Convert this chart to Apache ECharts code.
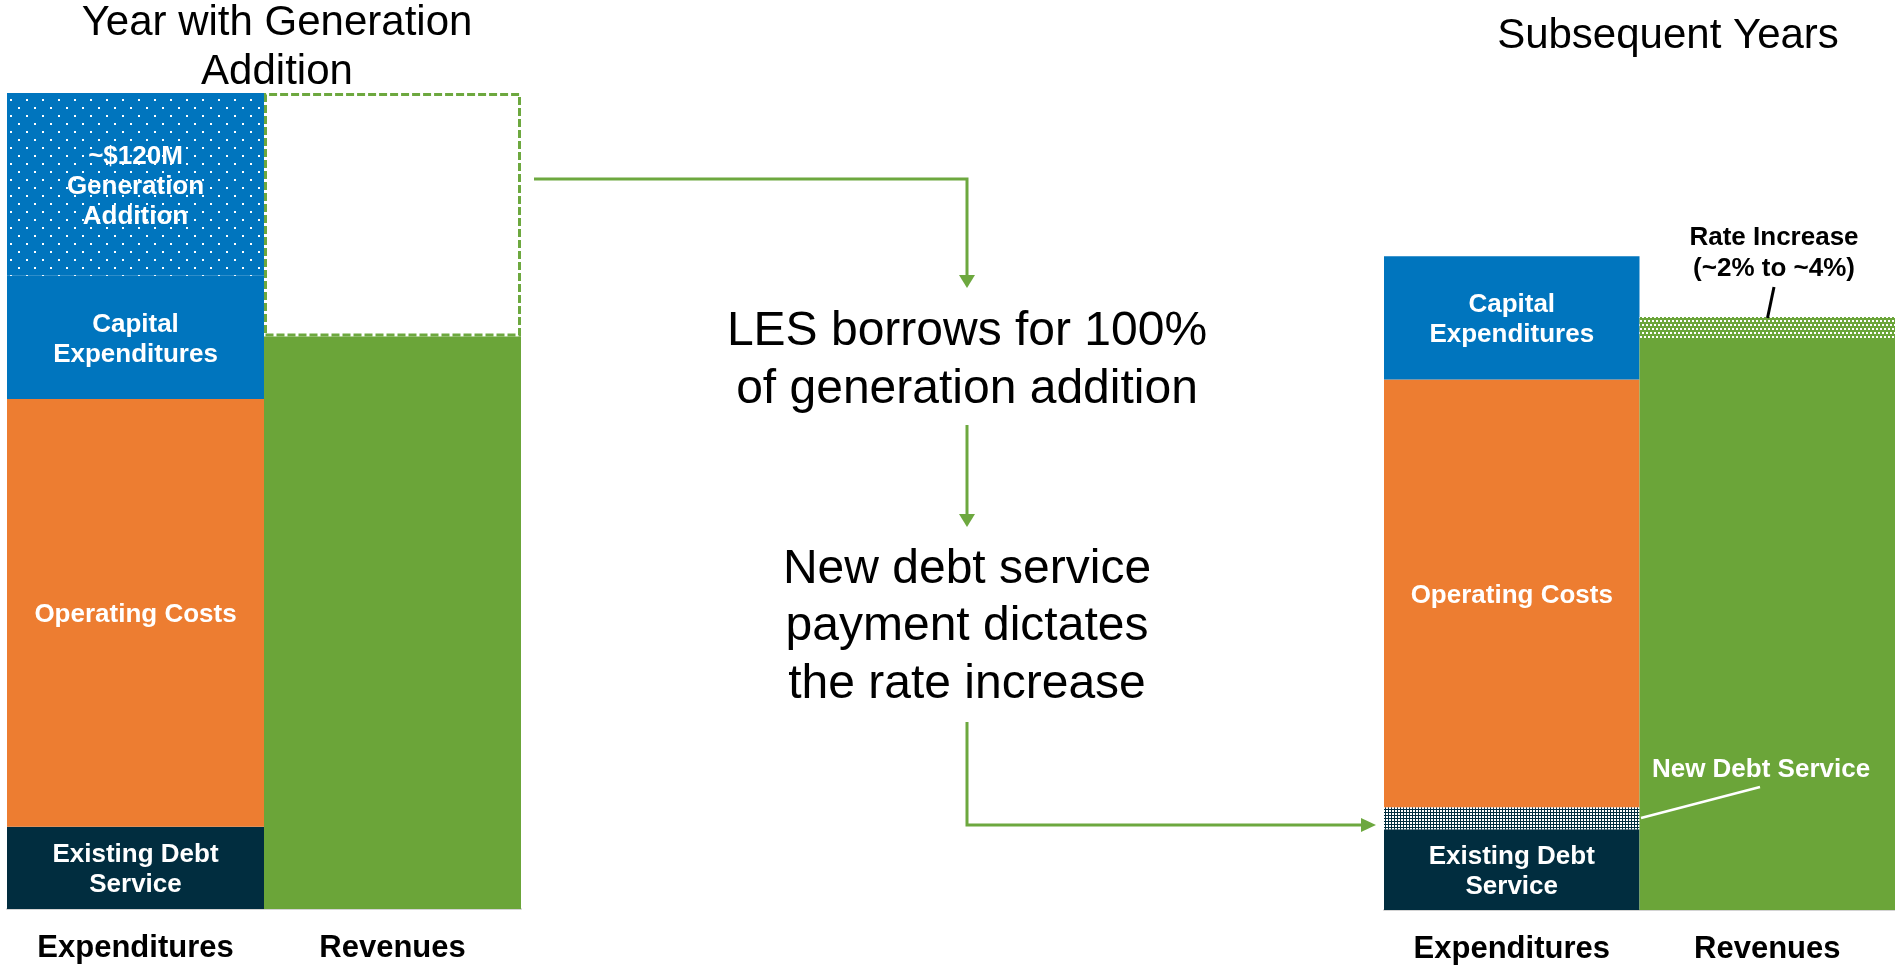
<!DOCTYPE html>
<html>
<head>
<meta charset="utf-8">
<title>Generation Addition Funding</title>
<script src="https://cdn.jsdelivr.net/npm/echarts@6/dist/echarts.min.js"></script>
<style>
  html, body { margin: 0; padding: 0; background: #ffffff; }
  #chart { width: 1895px; height: 966px; }
</style>
</head>
<body>
<div id="chart"></div>
<script>
// Column categories of each panel
const categories = ['Expenditures', 'Revenues'];
const panelTitles = ['Year with Generation\nAddition', 'Subsequent Years'];

// Values per panel: [year with generation addition, subsequent years] ($M, approximate)
const existingDebtService = [54, 53];
const newDebtService = [0, 14.5];
const operatingCosts = [281, 281];
const capitalExpenditures = [81, 81];
const generationAddition = [120, 0];
const revenues = [376, 375];
const revenueShortfall = [160, 0];   // part of the addition year covered by borrowing
const rateIncrease = [0, 14.5];

const flowSteps = [
  'LES borrows for 100%\nof generation addition',
  'New debt service\npayment dictates\nthe rate increase'
];

const FONT = 'Arial, "Liberation Sans", Helvetica, sans-serif';
const BLUE = '#0075BE';
const ORANGE = '#ED7D31';
const GREEN = '#6BA539';
const NAVY = '#012D3F';
const ARROW = '#6DA83F';

// Fill patterns
function patternCanvas(w, h, bg, dots, size) {
  const c = document.createElement('canvas');
  c.width = w; c.height = h;
  const g = c.getContext('2d');
  g.fillStyle = bg; g.fillRect(0, 0, w, h);
  g.fillStyle = '#ffffff';
  dots.forEach(d => g.fillRect(d[0], d[1], size, size));
  return { image: c, repeat: 'repeat' };
}
const dottedBlue = patternCanvas(16, 16, BLUE, [[10, 3], [2, 11]], 2);
const dottedNavy = patternCanvas(3, 3, NAVY, [[0, 0]], 2);
const dottedGreen = patternCanvas(4, 8, GREEN, [[0, 0], [2, 4]], 2);

const segLabel = (text) => ({
  show: true,
  position: 'inside',
  offset: [0, 2],
  formatter: text,
  color: '#ffffff',
  fontFamily: FONT,
  fontWeight: 'bold',
  fontSize: 26,
  lineHeight: 30,
  textBorderWidth: 0
});

function segment(name, panel, column, values, fill, label, extraStyle) {
  const v = values[panel];
  return {
    type: 'bar',
    name: name,
    xAxisIndex: panel,
    yAxisIndex: panel,
    stack: 'panel' + panel,
    barWidth: '100%',
    barCategoryGap: '0%',
    silent: true,
    data: column === 0 ? [v, '-'] : ['-', v],
    itemStyle: Object.assign({ color: fill }, extraStyle || {}),
    label: label || { show: false },
    emphasis: { disabled: true }
  };
}

const series = [
  // Year with generation addition
  segment('Existing Debt Service', 0, 0, existingDebtService, NAVY, segLabel('Existing Debt\nService')),
  segment('Operating Costs', 0, 0, operatingCosts, ORANGE, segLabel('Operating Costs')),
  segment('Capital Expenditures', 0, 0, capitalExpenditures, BLUE, segLabel('Capital\nExpenditures')),
  segment('Generation Addition', 0, 0, generationAddition, dottedBlue,
    segLabel(p => '~$' + p.value + 'M\nGeneration\nAddition')),
  segment('Revenues', 0, 1, revenues, GREEN),
  segment('Borrowed', 0, 1, revenueShortfall, '#ffffff', null,
    { borderColor: ARROW, borderWidth: 3, borderType: [8, 3] }),
  // Subsequent years
  segment('Existing Debt Service', 1, 0, existingDebtService, NAVY, segLabel('Existing Debt\nService')),
  segment('New Debt Service', 1, 0, newDebtService, dottedNavy),
  segment('Operating Costs', 1, 0, operatingCosts, ORANGE, segLabel('Operating Costs')),
  segment('Capital Expenditures', 1, 0, capitalExpenditures, BLUE, segLabel('Capital\nExpenditures')),
  segment('Revenues', 1, 1, revenues, GREEN),
  segment('Rate Increase', 1, 1, rateIncrease, dottedGreen)
];

const xAxisBase = (gridIndex) => ({
  type: 'category',
  gridIndex: gridIndex,
  data: categories,
  boundaryGap: true,
  axisTick: { show: false },
  axisLine: { show: true, lineStyle: { color: '#D4D4D4', width: 2 } },
  axisLabel: {
    color: '#000000',
    fontFamily: FONT,
    fontWeight: 'bold',
    fontSize: 31,
    lineHeight: 31,
    margin: 24,
    interval: 0
  },
  splitLine: { show: false },
  z: 0
});
const yAxisBase = (gridIndex) => ({
  type: 'value',
  gridIndex: gridIndex,
  min: 0,
  max: 536,
  show: false,
  splitLine: { show: false }
});

const textEl = (text, x, y, size, weight, color, lineHeight) => ({
  type: 'text',
  x: x,
  y: y,
  z: 100,
  silent: true,
  style: {
    text: text,
    fill: color,
    font: weight + ' ' + size + 'px ' + FONT,
    lineHeight: lineHeight,
    align: 'center',
    verticalAlign: 'middle',
    textAlign: 'center',
    textVerticalAlign: 'middle'
  }
});
const lineEl = (points, color, width) => ({
  type: 'polyline',
  z: 100,
  silent: true,
  shape: { points: points },
  style: { stroke: color, lineWidth: width, fill: null, lineJoin: 'miter' }
});
const headEl = (points) => ({
  type: 'polygon',
  z: 100,
  silent: true,
  shape: { points: points },
  style: { fill: ARROW }
});

const graphics = [
  textEl(panelTitles[0], 277, 48, 42, 'normal', '#000000', 48.5),
  textEl(panelTitles[1], 1668, 36, 42, 'normal', '#000000', 48),
  textEl(flowSteps[0], 967, 361, 48, 'normal', '#000000', 57.5),
  textEl(flowSteps[1], 967, 627, 48, 'normal', '#000000', 57.5),
  // flow arrows
  lineEl([[534, 179], [967, 179], [967, 277]], ARROW, 3),
  headEl([[959, 275], [975, 275], [967, 288]]),
  lineEl([[967, 425], [967, 516]], ARROW, 3),
  headEl([[959, 514], [975, 514], [967, 527]]),
  lineEl([[967, 722], [967, 825], [1364, 825]], ARROW, 3),
  headEl([[1361, 818], [1361, 832], [1376, 825]]),
  // callouts in the subsequent-years panel
  lineEl([[1641, 818], [1760, 787]], '#ffffff', 2.5),
  textEl('New Debt Service', 1761, 770, 26, 'bold', '#ffffff', 30),
  lineEl([[1774, 287], [1767.5, 318]], '#000000', 3),
  textEl('Rate Increase\n(~2% to ~4%)', 1774, 253, 26, 'bold', '#000000', 31)
];

const chart = echarts.init(document.getElementById('chart'), null, { renderer: 'canvas' });
chart.setOption({
  backgroundColor: '#ffffff',
  animation: false,
  tooltip: { show: false },
  grid: [
    { left: 7, width: 514, top: 93, bottom: 57, containLabel: false, outerBoundsMode: 'none' },
    { left: 1384, right: 0, top: 94, bottom: 56, containLabel: false, outerBoundsMode: 'none' }
  ],
  xAxis: [xAxisBase(0), xAxisBase(1)],
  yAxis: [yAxisBase(0), yAxisBase(1)],
  series: series,
  graphic: graphics
});
</script>
</body>
</html>
